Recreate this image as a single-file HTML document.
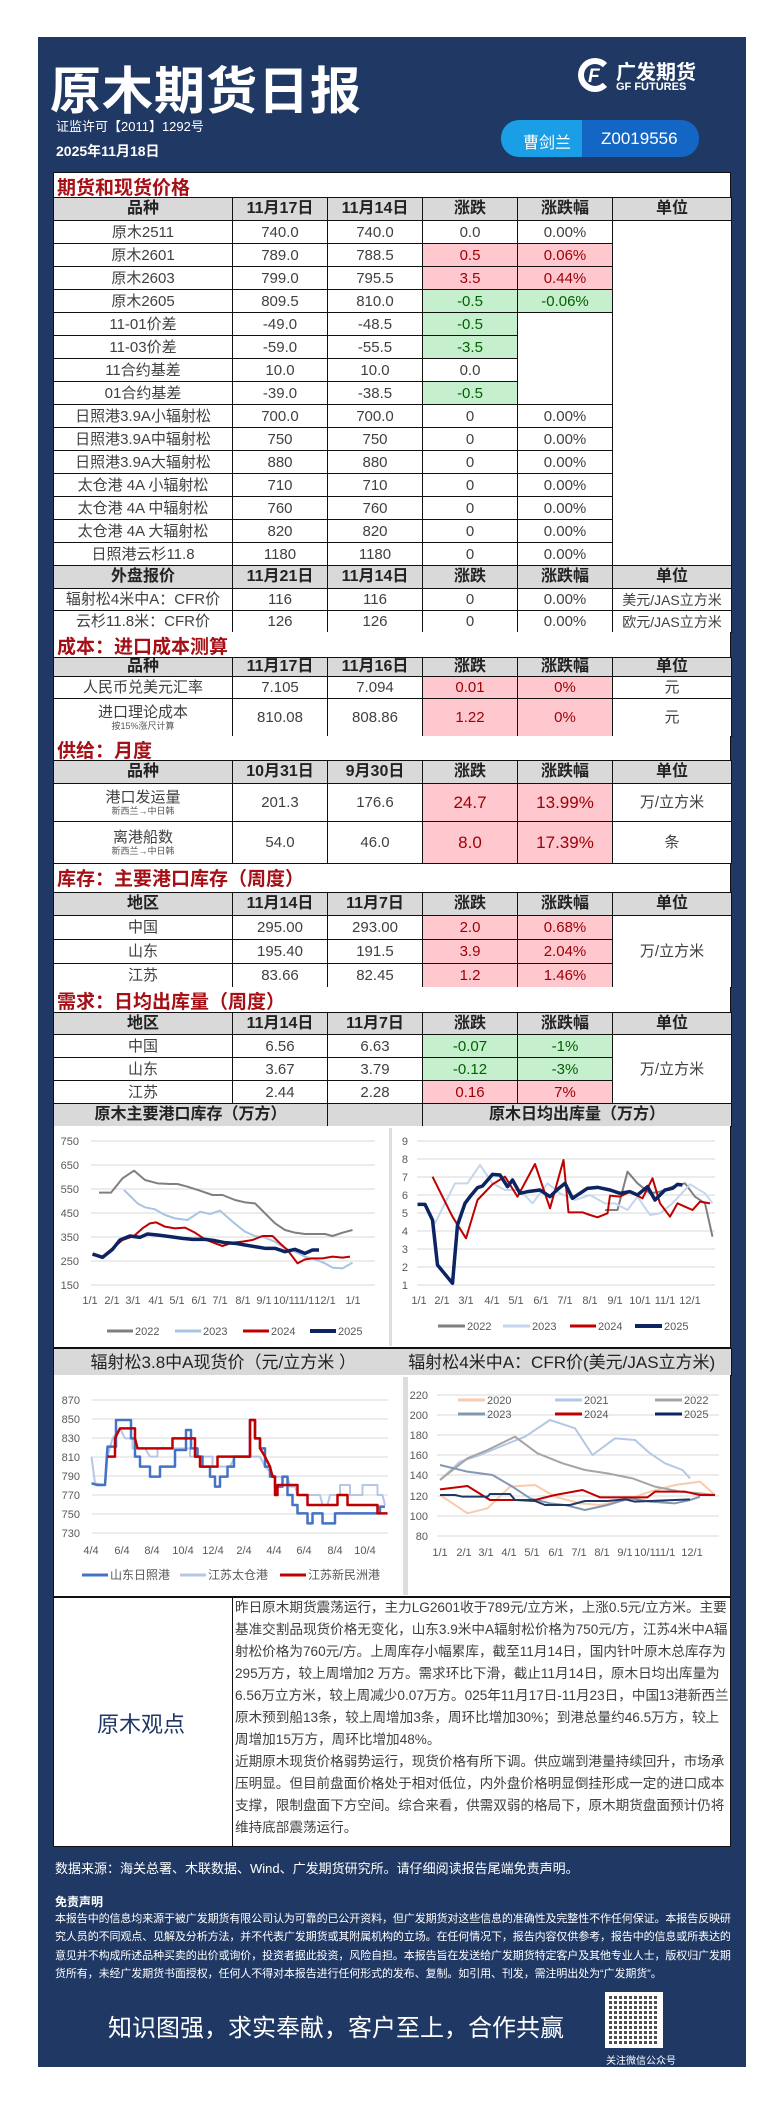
<!DOCTYPE html>
<html><head><meta charset="utf-8">
<style>
*{margin:0;padding:0;box-sizing:border-box}
body{width:784px;height:2103px;background:#fff;position:relative;overflow:hidden;font-family:"Liberation Sans","Noto Sans CJK SC",sans-serif;color:#333}
.abs{position:absolute}
#panel{left:38px;top:37px;width:708px;height:2030px;background:#1f3864}
table{position:absolute;left:53px;width:678px;border-collapse:collapse;table-layout:fixed;background:#fff}
td{border:1px solid #111;text-align:center;font-size:15px;color:#404040;line-height:1;padding:0;overflow:hidden;white-space:nowrap}
tr.h td{background:#d9d9d9;color:#222;font-weight:bold;font-size:16px}
td.r{background:#ffc7ce;color:#9c0006}
td.g{background:#c6efce;color:#006100}
.sec{position:absolute;left:53px;width:678px;background:#fff;color:#a50f15;font-size:19px;font-weight:bold;padding-left:3px;border-left:1px solid #111;border-right:1px solid #111}
small{font-size:9px;display:block;color:#555;margin-top:2px}
.op{font-size:13.6px;line-height:22px;color:#404040}
</style></head><body>
<div class="abs" id="panel"></div>
<div class="abs" style="left:50px;top:50px;color:#fff;font-size:51px;font-weight:bold;letter-spacing:1px;font-family:'Noto Sans CJK SC',sans-serif">原木期货日报</div>
<div class="abs" style="left:578px;top:58px;width:34px;height:34px;border:6px solid #fff;border-right-color:transparent;border-radius:50%"></div>
<div class="abs" style="left:588px;top:66px;color:#fff;font-size:19px;font-weight:bold;font-style:italic">F</div>
<div class="abs" style="left:616px;top:56px;color:#fff;font-size:20px;font-weight:bold">广发期货</div>
<div class="abs" style="left:616px;top:81px;color:#fff;font-size:11px;font-weight:bold">GF FUTURES</div>
<div class="abs" style="left:56px;top:116px;color:#fff;font-size:13px">证监许可【2011】1292号</div>
<div class="abs" style="left:56px;top:141px;color:#fff;font-size:14px;font-weight:bold">2025年11月18日</div>
<div class="abs" style="left:501px;top:120px;width:198px;height:37px;border-radius:18px;background:#1466c4;overflow:hidden">
<div style="position:absolute;left:0;top:0;width:81px;height:37px;background:#1a9ee6;border-radius:18px 0 0 18px"></div>
<div style="position:absolute;left:22px;top:9px;color:#fff;font-size:16px">曹剑兰</div>
<div style="position:absolute;left:100px;top:9px;color:#fff;font-size:17px">Z0019556</div></div>

<div class="sec" style="top:172px;height:25px;border-top:1px solid #111">期货和现货价格</div>
<table style="top:197px"><colgroup><col style="width:179px"><col style="width:95px"><col style="width:95px"><col style="width:95px"><col style="width:95px"><col style="width:119px"></colgroup>
<tr class="h" style="height:23px"><td>品种</td><td>11月17日</td><td>11月14日</td><td>涨跌</td><td>涨跌幅</td><td>单位</td></tr>
<tr style="height:23px"><td>原木2511</td><td>740.0</td><td>740.0</td><td>0.0</td><td>0.00%</td><td rowspan="15"></td></tr>
<tr style="height:23px"><td>原木2601</td><td>789.0</td><td>788.5</td><td class="r">0.5</td><td class="r">0.06%</td></tr>
<tr style="height:23px"><td>原木2603</td><td>799.0</td><td>795.5</td><td class="r">3.5</td><td class="r">0.44%</td></tr>
<tr style="height:23px"><td>原木2605</td><td>809.5</td><td>810.0</td><td class="g">-0.5</td><td class="g">-0.06%</td></tr>
<tr style="height:23px"><td>11-01价差</td><td>-49.0</td><td>-48.5</td><td class="g">-0.5</td><td rowspan="4"></td></tr>
<tr style="height:23px"><td>11-03价差</td><td>-59.0</td><td>-55.5</td><td class="g">-3.5</td></tr>
<tr style="height:23px"><td>11合约基差</td><td>10.0</td><td>10.0</td><td>0.0</td></tr>
<tr style="height:23px"><td>01合约基差</td><td>-39.0</td><td>-38.5</td><td class="g">-0.5</td></tr>
<tr style="height:23px"><td>日照港3.9A小辐射松</td><td>700.0</td><td>700.0</td><td>0</td><td>0.00%</td></tr>
<tr style="height:23px"><td>日照港3.9A中辐射松</td><td>750</td><td>750</td><td>0</td><td>0.00%</td></tr>
<tr style="height:23px"><td>日照港3.9A大辐射松</td><td>880</td><td>880</td><td>0</td><td>0.00%</td></tr>
<tr style="height:23px"><td>太仓港 4A 小辐射松</td><td>710</td><td>710</td><td>0</td><td>0.00%</td></tr>
<tr style="height:23px"><td>太仓港 4A 中辐射松</td><td>760</td><td>760</td><td>0</td><td>0.00%</td></tr>
<tr style="height:23px"><td>太仓港 4A 大辐射松</td><td>820</td><td>820</td><td>0</td><td>0.00%</td></tr>
<tr style="height:23px"><td>日照港云杉11.8</td><td>1180</td><td>1180</td><td>0</td><td>0.00%</td></tr>
<tr class="h" style="height:23px"><td>外盘报价</td><td>11月21日</td><td>11月14日</td><td>涨跌</td><td>涨跌幅</td><td>单位</td></tr>
<tr style="height:22px"><td>辐射松4米中A：CFR价</td><td>116</td><td>116</td><td>0</td><td>0.00%</td><td style="font-size:14px">美元/JAS立方米</td></tr>
<tr style="height:22px"><td>云杉11.8米：CFR价</td><td>126</td><td>126</td><td>0</td><td>0.00%</td><td style="font-size:14px">欧元/JAS立方米</td></tr>
</table>

<div class="sec" style="top:632px;height:25px">成本：进口成本测算</div>
<table style="top:657px"><colgroup><col style="width:179px"><col style="width:95px"><col style="width:95px"><col style="width:95px"><col style="width:95px"><col style="width:119px"></colgroup>
<tr class="h" style="height:19px"><td>品种</td><td>11月17日</td><td>11月16日</td><td>涨跌</td><td>涨跌幅</td><td>单位</td></tr>
<tr style="height:22px"><td>人民币兑美元汇率</td><td>7.105</td><td>7.094</td><td class="r">0.01</td><td class="r">0%</td><td>元</td></tr>
<tr style="height:38px"><td>进口理论成本<small>按15%涨尺计算</small></td><td>810.08</td><td>808.86</td><td class="r">1.22</td><td class="r">0%</td><td>元</td></tr>
</table>

<div class="sec" style="top:736px;height:24px">供给：月度</div>
<table style="top:760px"><colgroup><col style="width:179px"><col style="width:95px"><col style="width:95px"><col style="width:95px"><col style="width:95px"><col style="width:119px"></colgroup>
<tr class="h" style="height:23px"><td>品种</td><td>10月31日</td><td>9月30日</td><td>涨跌</td><td>涨跌幅</td><td>单位</td></tr>
<tr style="height:38px"><td>港口发运量<small>新西兰→中日韩</small></td><td>201.3</td><td>176.6</td><td class="r" style="font-size:17px">24.7</td><td class="r" style="font-size:17px">13.99%</td><td>万/立方米</td></tr>
<tr style="height:42px"><td>离港船数<small>新西兰→中日韩</small></td><td>54.0</td><td>46.0</td><td class="r" style="font-size:17px">8.0</td><td class="r" style="font-size:17px">17.39%</td><td>条</td></tr>
</table>

<div class="sec" style="top:864px;height:28px">库存：主要港口库存（周度）</div>
<table style="top:892px"><colgroup><col style="width:179px"><col style="width:95px"><col style="width:95px"><col style="width:95px"><col style="width:95px"><col style="width:119px"></colgroup>
<tr class="h" style="height:23px"><td>地区</td><td>11月14日</td><td>11月7日</td><td>涨跌</td><td>涨跌幅</td><td>单位</td></tr>
<tr style="height:24px"><td>中国</td><td>295.00</td><td>293.00</td><td class="r">2.0</td><td class="r">0.68%</td><td rowspan="3">万/立方米</td></tr>
<tr style="height:24px"><td>山东</td><td>195.40</td><td>191.5</td><td class="r">3.9</td><td class="r">2.04%</td></tr>
<tr style="height:24px"><td>江苏</td><td>83.66</td><td>82.45</td><td class="r">1.2</td><td class="r">1.46%</td></tr>
</table>

<div class="sec" style="top:987px;height:25px">需求：日均出库量（周度）</div>
<table style="top:1012px"><colgroup><col style="width:179px"><col style="width:95px"><col style="width:95px"><col style="width:95px"><col style="width:95px"><col style="width:119px"></colgroup>
<tr class="h" style="height:22px"><td>地区</td><td>11月14日</td><td>11月7日</td><td>涨跌</td><td>涨跌幅</td><td>单位</td></tr>
<tr style="height:23px"><td>中国</td><td>6.56</td><td>6.63</td><td class="g">-0.07</td><td class="g">-1%</td><td rowspan="3">万/立方米</td></tr>
<tr style="height:23px"><td>山东</td><td>3.67</td><td>3.79</td><td class="g">-0.12</td><td class="g">-3%</td></tr>
<tr style="height:23px"><td>江苏</td><td>2.44</td><td>2.28</td><td class="r">0.16</td><td class="r">7%</td></tr>
</table>

<table style="top:1103px"><colgroup><col style="width:274px"><col style="width:95px"><col style="width:309px"></colgroup>
<tr class="h" style="height:23px"><td style="border-right:none">原木主要港口库存（万方）</td><td style="border-left:1px solid #111"></td><td>原木日均出库量（万方）</td></tr></table>
<div class="abs" style="left:53px;top:1126px;width:678px;height:222px;background:#fff;border:1px solid #111;border-top:none"></div>
<div class="abs" style="left:389px;top:1128px;width:3px;height:218px;background:#ddd"></div>
<table style="top:1348px"><colgroup><col style="width:339px"><col style="width:339px"></colgroup>
<tr class="h" style="height:27px"><td style="border-right:none;font-weight:normal;font-size:17px">辐射松3.8中A现货价（元/立方米 ）</td><td style="border-left:none;font-weight:normal;font-size:17px">辐射松4米中A：CFR价(美元/JAS立方米)</td></tr></table>
<div class="abs" style="left:53px;top:1375px;width:678px;height:222px;background:#fff;border:1px solid #111;border-top:none"></div>
<div class="abs" style="left:403px;top:1377px;width:5px;height:218px;background:#ddd"></div>

<svg class="abs" style="left:0;top:0" width="784" height="2103" font-family="Liberation Sans, Noto Sans CJK SC, sans-serif" font-size="11" fill="#595959">
<g stroke="#d9d9d9" stroke-width="1">
<line x1="91" x2="375" y1="1141" y2="1141"/><line x1="91" x2="375" y1="1165" y2="1165"/><line x1="91" x2="375" y1="1189" y2="1189"/><line x1="91" x2="375" y1="1213" y2="1213"/><line x1="91" x2="375" y1="1237" y2="1237"/><line x1="91" x2="375" y1="1261" y2="1261"/><line x1="91" x2="375" y1="1285" y2="1285"/>
<line x1="417" x2="715" y1="1141" y2="1141"/><line x1="417" x2="715" y1="1159" y2="1159"/><line x1="417" x2="715" y1="1177" y2="1177"/><line x1="417" x2="715" y1="1195" y2="1195"/><line x1="417" x2="715" y1="1213" y2="1213"/><line x1="417" x2="715" y1="1231" y2="1231"/><line x1="417" x2="715" y1="1249" y2="1249"/><line x1="417" x2="715" y1="1267" y2="1267"/><line x1="417" x2="715" y1="1285" y2="1285"/>
<line x1="92" x2="388" y1="1400" y2="1400"/><line x1="92" x2="388" y1="1419" y2="1419"/><line x1="92" x2="388" y1="1438" y2="1438"/><line x1="92" x2="388" y1="1457" y2="1457"/><line x1="92" x2="388" y1="1476" y2="1476"/><line x1="92" x2="388" y1="1495" y2="1495"/><line x1="92" x2="388" y1="1514" y2="1514"/><line x1="92" x2="388" y1="1533" y2="1533"/>
<line x1="437" x2="719" y1="1395" y2="1395"/><line x1="437" x2="719" y1="1415" y2="1415"/><line x1="437" x2="719" y1="1435" y2="1435"/><line x1="437" x2="719" y1="1455" y2="1455"/><line x1="437" x2="719" y1="1475" y2="1475"/><line x1="437" x2="719" y1="1496" y2="1496"/><line x1="437" x2="719" y1="1516" y2="1516"/><line x1="437" x2="719" y1="1536" y2="1536"/>
</g>
<g text-anchor="end">
<text x="79" y="1145">750</text><text x="79" y="1169">650</text><text x="79" y="1193">550</text><text x="79" y="1217">450</text><text x="79" y="1241">350</text><text x="79" y="1265">250</text><text x="79" y="1289">150</text>
<text x="408" y="1145">9</text><text x="408" y="1163">8</text><text x="408" y="1181">7</text><text x="408" y="1199">6</text><text x="408" y="1217">5</text><text x="408" y="1235">4</text><text x="408" y="1253">3</text><text x="408" y="1271">2</text><text x="408" y="1289">1</text>
<text x="80" y="1404">870</text><text x="80" y="1423">850</text><text x="80" y="1442">830</text><text x="80" y="1461">810</text><text x="80" y="1480">790</text><text x="80" y="1499">770</text><text x="80" y="1518">750</text><text x="80" y="1537">730</text>
<text x="428" y="1399">220</text><text x="428" y="1419">200</text><text x="428" y="1439">180</text><text x="428" y="1459">160</text><text x="428" y="1479">140</text><text x="428" y="1500">120</text><text x="428" y="1520">100</text><text x="428" y="1540">80</text>
</g>
<g text-anchor="middle">
<text x="90" y="1304">1/1</text><text x="112" y="1304">2/1</text><text x="133" y="1304">3/1</text><text x="156" y="1304">4/1</text><text x="177" y="1304">5/1</text><text x="199" y="1304">6/1</text><text x="220" y="1304">7/1</text><text x="243" y="1304">8/1</text><text x="264" y="1304">9/1</text><text x="284" y="1304">10/1</text><text x="304" y="1304">11/1</text><text x="325" y="1304">12/1</text><text x="353" y="1304">1/1</text>
<text x="419" y="1304">1/1</text><text x="442" y="1304">2/1</text><text x="466" y="1304">3/1</text><text x="492" y="1304">4/1</text><text x="516" y="1304">5/1</text><text x="541" y="1304">6/1</text><text x="565" y="1304">7/1</text><text x="590" y="1304">8/1</text><text x="615" y="1304">9/1</text><text x="640" y="1304">10/1</text><text x="665" y="1304">11/1</text><text x="690" y="1304">12/1</text>
<text x="91" y="1554">4/4</text><text x="122" y="1554">6/4</text><text x="152" y="1554">8/4</text><text x="183" y="1554">10/4</text><text x="213" y="1554">12/4</text><text x="244" y="1554">2/4</text><text x="274" y="1554">4/4</text><text x="304" y="1554">6/4</text><text x="335" y="1554">8/4</text><text x="365" y="1554">10/4</text>
<text x="440" y="1556">1/1</text><text x="464" y="1556">2/1</text><text x="486" y="1556">3/1</text><text x="509" y="1556">4/1</text><text x="532" y="1556">5/1</text><text x="556" y="1556">6/1</text><text x="579" y="1556">7/1</text><text x="602" y="1556">8/1</text><text x="625" y="1556">9/1</text><text x="645" y="1556">10/1</text><text x="665" y="1556">11/1</text><text x="692" y="1556">12/1</text>
</g>
<g stroke-width="3">
<line x1="107" x2="133" y1="1331" y2="1331" stroke="#7f7f7f"/><line x1="175" x2="201" y1="1331" y2="1331" stroke="#a9c4e2"/><line x1="243" x2="269" y1="1331" y2="1331" stroke="#c00000"/><line x1="310" x2="336" y1="1331" y2="1331" stroke="#0c2461" stroke-width="4"/>
<line x1="438" x2="465" y1="1326" y2="1326" stroke="#7f7f7f"/><line x1="503" x2="530" y1="1326" y2="1326" stroke="#c5d6ec"/><line x1="570" x2="596" y1="1326" y2="1326" stroke="#c00000"/><line x1="635" x2="662" y1="1326" y2="1326" stroke="#0c2461" stroke-width="4"/>
<line x1="82" x2="108" y1="1575" y2="1575" stroke="#4472c4"/><line x1="180" x2="206" y1="1575" y2="1575" stroke="#b4c7e7"/><line x1="280" x2="306" y1="1575" y2="1575" stroke="#c00000"/>
<line x1="458" x2="485" y1="1400" y2="1400" stroke="#f8cbad"/><line x1="555" x2="582" y1="1400" y2="1400" stroke="#b4c7e7"/><line x1="655" x2="682" y1="1400" y2="1400" stroke="#a5a5a5"/>
<line x1="458" x2="485" y1="1414" y2="1414" stroke="#8497b0"/><line x1="555" x2="582" y1="1414" y2="1414" stroke="#c00000"/><line x1="655" x2="682" y1="1414" y2="1414" stroke="#0c2461"/>
</g>
<text x="135" y="1335">2022</text><text x="203" y="1335">2023</text><text x="271" y="1335">2024</text><text x="338" y="1335">2025</text>
<text x="467" y="1330">2022</text><text x="532" y="1330">2023</text><text x="598" y="1330">2024</text><text x="664" y="1330">2025</text>
<text x="110" y="1579" font-size="12">山东日照港</text><text x="208" y="1579" font-size="12">江苏太仓港</text><text x="308" y="1579" font-size="12">江苏新民洲港</text>
<text x="487" y="1404">2020</text><text x="584" y="1404">2021</text><text x="684" y="1404">2022</text>
<text x="487" y="1418">2023</text><text x="584" y="1418">2024</text><text x="684" y="1418">2025</text>
<g transform="translate(0,850) scale(0.5,0.33333)" fill="none" stroke-linejoin="round">
<polyline vector-effect="non-scaling-stroke" stroke="#7f7f7f" stroke-width="2" points="198,1028 222,1028 245,985 268,962 290,990 315,1000 340,1002 355,1002 375,1010 400,1022 425,1035 445,1035 470,1050 490,1057 510,1060 530,1090 550,1120 570,1140 590,1148 610,1152 630,1152 650,1152 665,1158 685,1148 705,1140"/>
<polyline vector-effect="non-scaling-stroke" stroke="#a9c4e2" stroke-width="2" points="248,1020 275,1060 290,1072 310,1078 330,1095 350,1105 375,1110 400,1085 420,1092 440,1082 465,1115 490,1145 510,1158 530,1163 550,1175 570,1195 590,1205 610,1220 630,1228 650,1240 665,1253 685,1255 705,1238"/>
<polyline vector-effect="non-scaling-stroke" stroke="#c00000" stroke-width="2" points="185,1215 205,1220 225,1195 245,1170 268,1158 285,1135 300,1120 312,1117 330,1130 350,1135 370,1133 390,1148 410,1168 430,1180 445,1188 465,1178 485,1175 505,1170 525,1158 545,1158 560,1180 575,1200 595,1240 610,1228 625,1225 645,1225 665,1220 685,1223 700,1220"/>
<polyline vector-effect="non-scaling-stroke" stroke="#0c2461" stroke-width="3.5" points="185,1212 205,1222 225,1198 240,1170 260,1158 280,1162 295,1152 315,1155 340,1160 365,1165 385,1168 410,1168 430,1172 450,1178 470,1180 490,1185 510,1190 530,1195 550,1195 570,1205 590,1198 610,1210 625,1200 638,1200"/>
<polyline vector-effect="non-scaling-stroke" stroke="#7f7f7f" stroke-width="2" points="1210,1080 1235,1080 1255,965 1275,1000 1300,1030 1320,1025 1345,1010 1370,1000 1390,1040 1410,1060 1425,1160"/>
<polyline vector-effect="non-scaling-stroke" stroke="#c5d6ec" stroke-width="2" points="835,1063 850,1065 870,1120 910,1000 935,1000 960,945 985,1000 1010,1020 1040,1020 1065,1060 1095,1000 1120,1030 1150,1050 1180,1035 1210,1060 1230,1060 1255,1080 1275,1040 1300,1095 1320,1090 1345,1060 1380,1003 1410,1030 1425,1060"/>
<polyline vector-effect="non-scaling-stroke" stroke="#c00000" stroke-width="2" points="865,980 905,1100 932,1165 955,1050 985,1003 1010,980 1035,1040 1070,942 1100,1075 1127,930 1137,1087 1165,1087 1180,1095 1195,1102 1215,1090 1220,1037 1240,1040 1260,1025 1285,1045 1305,985 1320,1060 1340,1100 1355,1060 1370,1070 1385,1080 1400,1055 1420,1060"/>
<polyline vector-effect="non-scaling-stroke" stroke="#0c2461" stroke-width="3.5" points="835,1063 850,1063 865,1110 875,1245 905,1300 915,1125 930,1060 940,1040 955,1013 965,1008 985,973 1000,975 1015,1010 1025,990 1040,1030 1055,1025 1080,1020 1100,1040 1115,1018 1130,1000 1145,1045 1160,1030 1175,1015 1195,1012 1220,1020 1240,1030 1260,1025 1275,1035 1295,1010 1310,1050 1330,1020 1345,1015 1355,1003 1365,1005"/>
</g>
<g transform="translate(0,1340) scale(0.5,0.33333)" fill="none" stroke-linejoin="round">
<polyline vector-effect="non-scaling-stroke" stroke="#b4c7e7" stroke-width="2" points="183,350 190,430 210,435 215,350 225,295 240,265 250,295 265,295 265,325 290,325 300,350 315,350 315,325 380,325 380,350 425,350 425,380 460,380 470,350 520,350 530,380 550,410 575,410 580,440 590,440 595,465 640,465 645,495 655,495 660,465 680,465 680,435 700,435 700,465 725,465 725,435 755,435 755,465 765,465 770,495"/>
<polyline vector-effect="non-scaling-stroke" stroke="#4472c4" stroke-width="2.5" points="183,430 195,435 210,435 215,320 232,320 232,240 262,240 262,295 270,295 270,350 280,350 280,380 300,380 300,410 320,410 320,380 350,380 350,330 372,330 372,270 382,270 382,325 395,325 395,350 405,350 405,380 420,380 420,410 430,410 430,440 440,440 440,410 455,410 455,380 468,380 468,350 500,350 500,240 510,240 510,295 520,295 520,325 530,325 530,380 540,380 540,410 550,410 550,440 565,440 565,410 575,410 575,465 585,465 585,495 595,495 595,520 615,520 615,550 625,550 625,520 645,520 645,550 670,550 670,520 760,520 760,500 770,500"/>
<polyline vector-effect="non-scaling-stroke" stroke="#c00000" stroke-width="2.5" points="215,350 230,350 230,295 240,265 270,265 270,295 275,325 345,325 345,295 390,295 390,350 400,350 400,380 435,380 435,350 500,350 500,240 510,240 510,295 520,295 520,325 530,350 540,380 545,410 550,410 550,465 555,465 555,435 595,435 595,465 615,465 615,495 675,495 675,465 695,465 695,495 755,495 755,520 775,520"/>
<polyline vector-effect="non-scaling-stroke" stroke="#f8cbad" stroke-width="2" points="880,465 935,520 975,505 1020,440 1070,435 1110,470 1160,490 1200,495 1250,480 1300,455 1350,435 1400,425 1430,465"/>
<polyline vector-effect="non-scaling-stroke" stroke="#b4c7e7" stroke-width="2" points="880,420 920,365 960,345 1000,320 1050,290 1100,240 1150,265 1185,345 1230,295 1270,300 1300,340 1330,370 1365,390 1380,415"/>
<polyline vector-effect="non-scaling-stroke" stroke="#a5a5a5" stroke-width="2" points="880,420 935,355 975,330 1030,290 1075,340 1125,370 1170,390 1215,400 1265,415 1310,440 1360,455 1400,460 1430,465"/>
<polyline vector-effect="non-scaling-stroke" stroke="#8497b0" stroke-width="2" points="880,375 935,395 985,405 1025,440 1060,475 1100,490 1130,495 1170,510 1215,495 1260,475 1300,485 1350,490 1380,480 1400,470"/>
<polyline vector-effect="non-scaling-stroke" stroke="#c00000" stroke-width="2" points="880,448 935,438 980,480 1020,480 1070,480 1110,465 1165,450 1200,472 1250,472 1295,472 1310,455 1370,455 1400,465 1430,465"/>
<polyline vector-effect="non-scaling-stroke" stroke="#203864" stroke-width="2" points="880,465 910,465 925,470 975,470 980,462 1020,462 1030,480 1070,483 1090,495 1140,495 1170,483 1215,483 1250,478 1270,485 1300,483 1350,480 1380,478"/>
</g>
</svg>

<div class="abs" style="left:53px;top:1597px;width:678px;height:250px;background:#fff;border:1px solid #111"></div>
<div class="abs" style="left:232px;top:1597px;width:1px;height:250px;background:#111"></div>
<div class="abs" style="left:97px;top:1707px;font-size:22px;color:#1f3864">原木观点</div>
<div class="abs op" style="left:235px;top:1597px;width:495px">
<div>昨日原木期货震荡运行，主力LG2601收于789元/立方米，上涨0.5元/立方米。主要基准交割品现货价格无变化，山东3.9米中A辐射松价格为750元/方，江苏4米中A辐射松价格为760元/方。上周库存小幅累库，截至11月14日，国内针叶原木总库存为295万方，较上周增加2 万方。需求环比下滑，截止11月14日，原木日均出库量为6.56万立方米，较上周减少0.07万方。025年11月17日-11月23日，中国13港新西兰原木预到船13条，较上周增加3条，周环比增加30%；到港总量约46.5万方，较上周增加15万方，周环比增加48%。</div>
<div>近期原木现货价格弱势运行，现货价格有所下调。供应端到港量持续回升，市场承压明显。但目前盘面价格处于相对低位，内外盘价格明显倒挂形成一定的进口成本支撑，限制盘面下方空间。综合来看，供需双弱的格局下，原木期货盘面预计仍将维持底部震荡运行。</div>
</div>

<div class="abs" style="left:55px;top:1858px;color:#fff;font-size:13px">数据来源：海关总署、木联数据、Wind、广发期货研究所。请仔细阅读报告尾端免责声明。</div>
<div class="abs" style="left:55px;top:1893px;color:#fff;font-size:12px;font-weight:bold">免责声明</div>
<div class="abs" style="left:55px;top:1910px;width:678px;color:#fff;font-size:11px;letter-spacing:-0.1px;line-height:18.3px">本报告中的信息均来源于被广发期货有限公司认为可靠的已公开资料，但广发期货对这些信息的准确性及完整性不作任何保证。本报告反映研究人员的不同观点、见解及分析方法，并不代表广发期货或其附属机构的立场。在任何情况下，报告内容仅供参考，报告中的信息或所表达的意见并不构成所述品种买卖的出价或询价，投资者据此投资，风险自担。本报告旨在发送给广发期货特定客户及其他专业人士，版权归广发期货所有，未经广发期货书面授权，任何人不得对本报告进行任何形式的发布、复制。如引用、刊发，需注明出处为“广发期货”。</div>
<div class="abs" style="left:108px;top:2008px;color:#fff;font-size:24px">知识图强，求实奉献，客户至上，合作共赢</div>
<div class="abs" style="left:605px;top:1992px;width:58px;height:56px;background:#fff;padding:4px">
<div style="width:50px;height:48px;background:repeating-linear-gradient(90deg,#222 0 3px,#fff 3px 5px),#222;opacity:.8;position:relative">
<div style="position:absolute;inset:0;background:repeating-linear-gradient(0deg,transparent 0 3px,#fff 3px 5px)"></div></div></div>
<div class="abs" style="left:606px;top:2052px;color:#fff;font-size:10px">关注微信公众号</div>
</body></html>
